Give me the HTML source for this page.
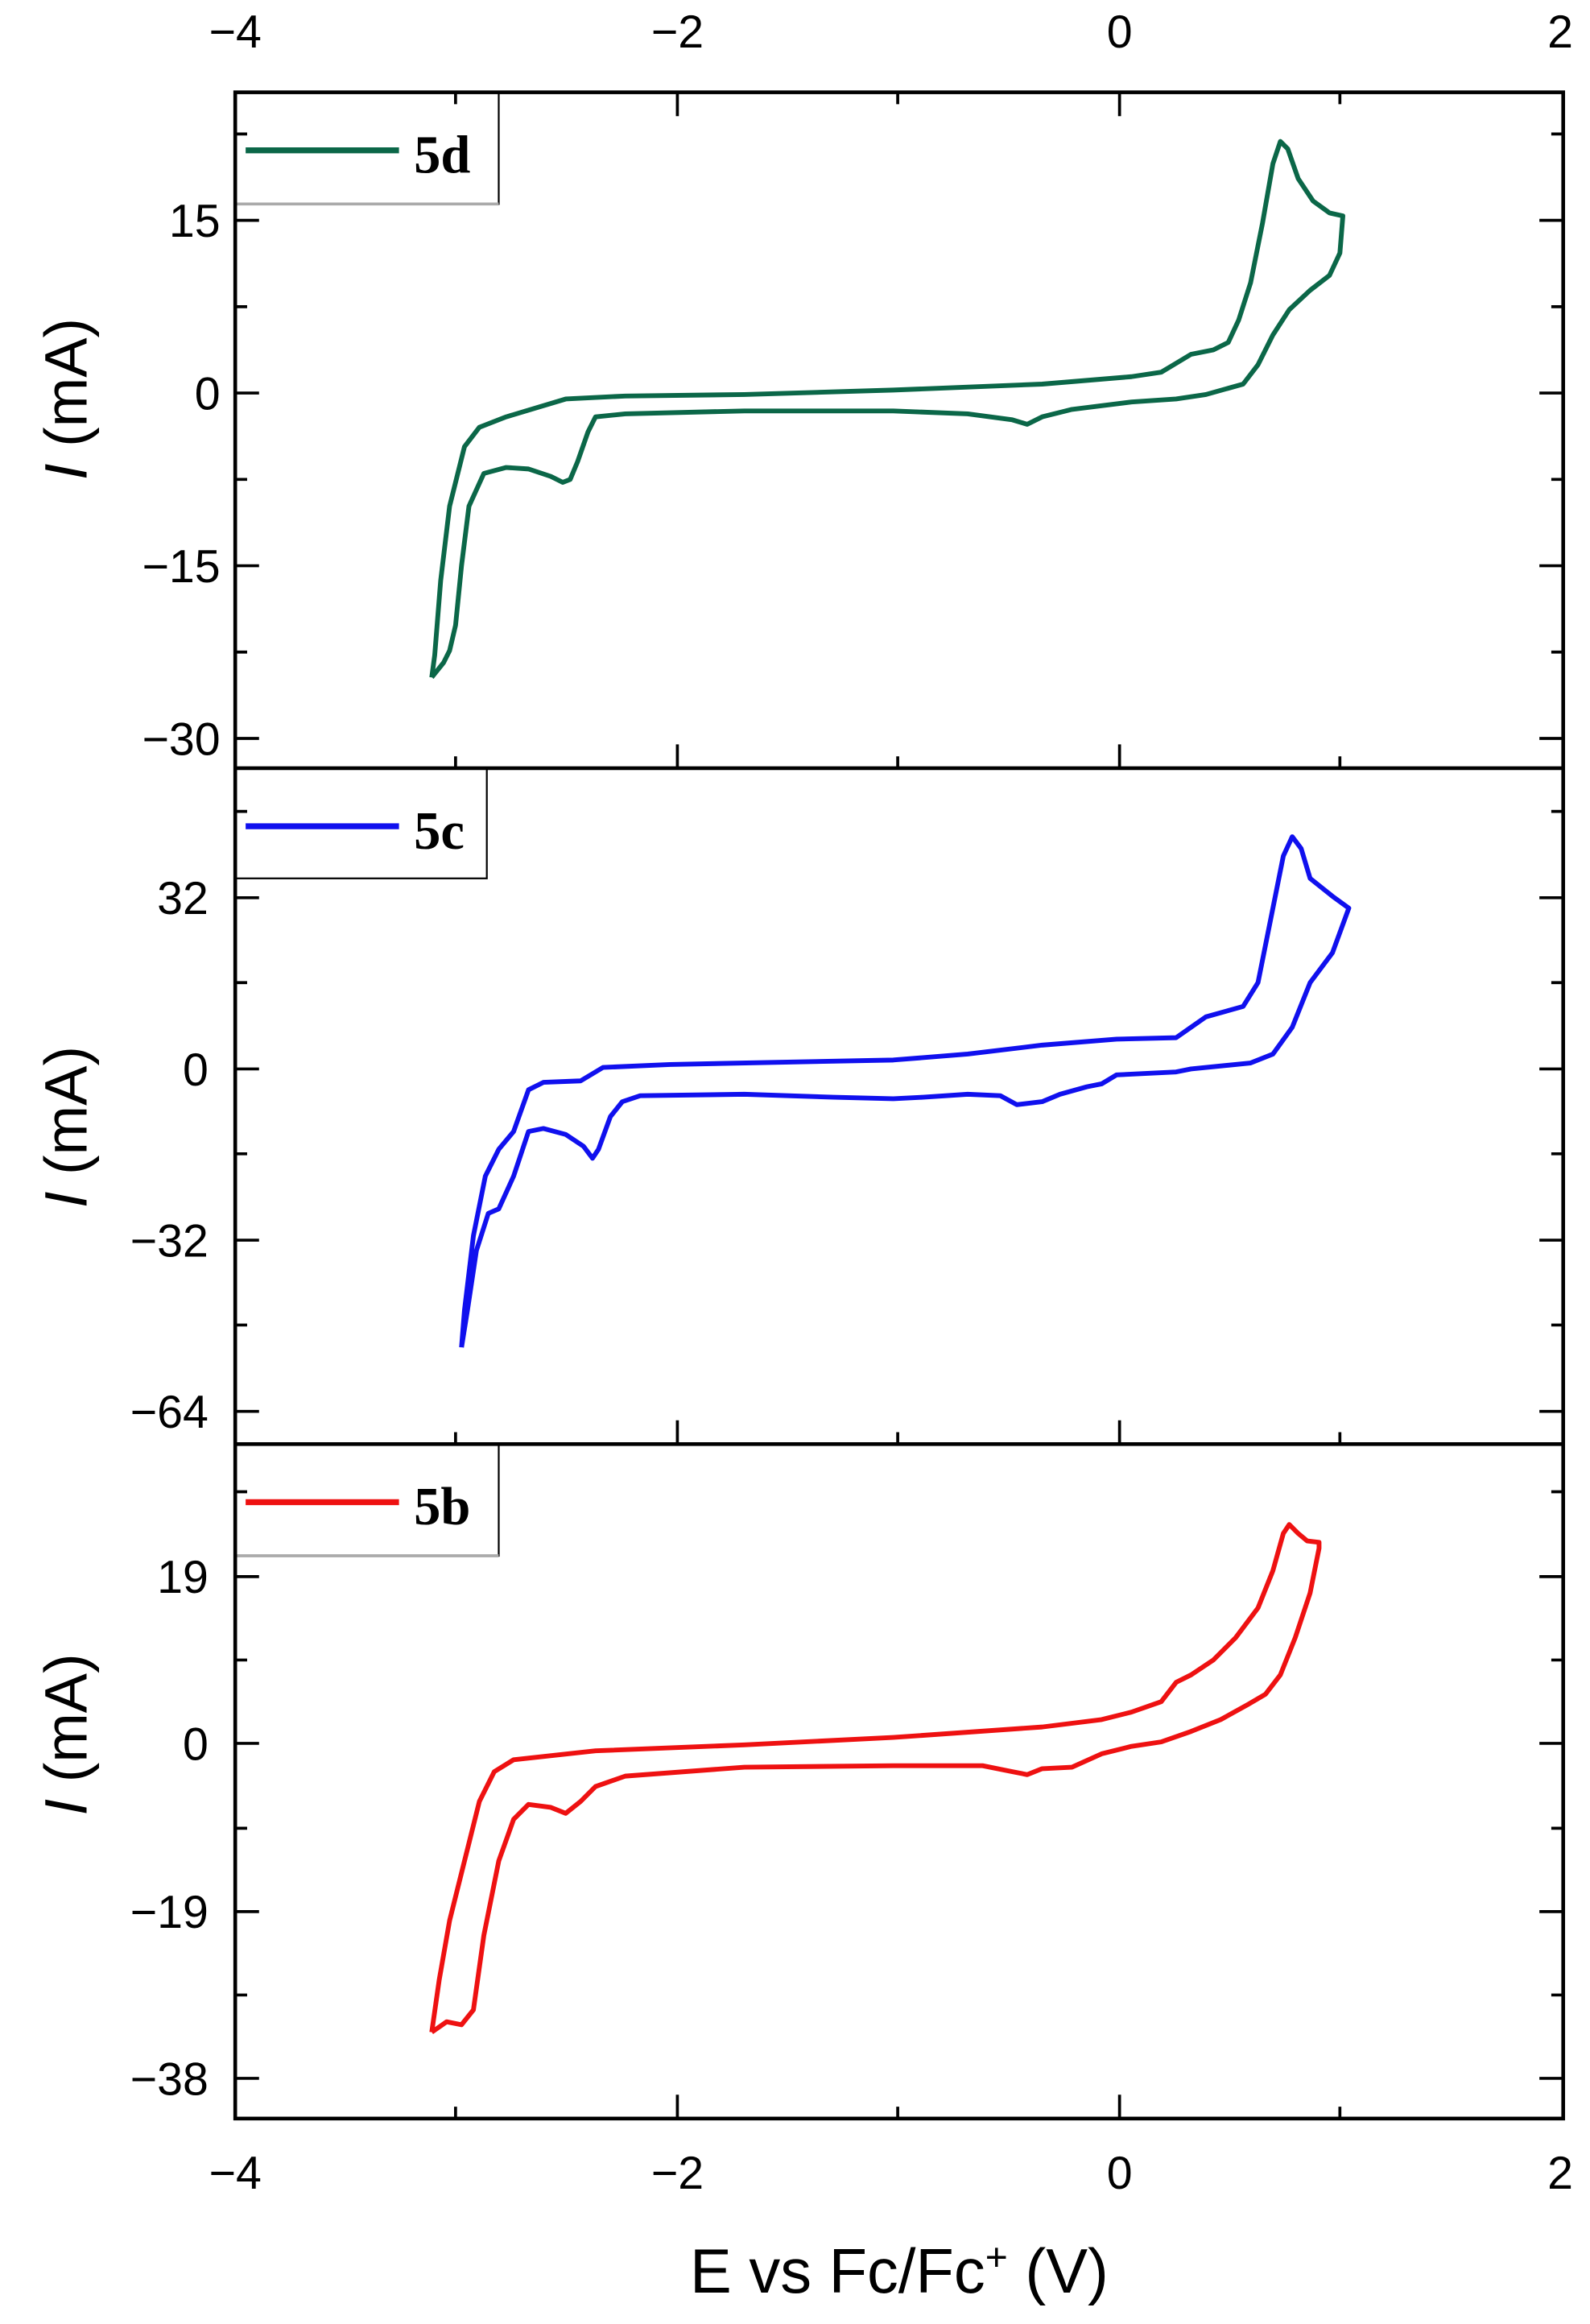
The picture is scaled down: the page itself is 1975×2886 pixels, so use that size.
<!DOCTYPE html>
<html><head><meta charset="utf-8"><style>
html,body{margin:0;padding:0;background:#fff;}
svg{display:block;}
text{font-family:"Liberation Sans",sans-serif;fill:#000;}
.t{font-size:31px;}
.lg{font-family:"Liberation Serif",serif;font-weight:bold;font-size:36px;}
</style></head><body>
<svg width="1975" height="2886" viewBox="0 0 1068 1561" preserveAspectRatio="none" xmlns="http://www.w3.org/2000/svg">
<rect width="1068" height="1561" fill="#fff"/>
<g class="t" text-anchor="middle">
<text x="158" y="32">−4</text><text x="455" y="32">−2</text><text x="752" y="32">0</text><text x="1048" y="32">2</text>
<text x="158" y="1470">−4</text><text x="455" y="1470">−2</text><text x="752" y="1470">0</text><text x="1048" y="1470">2</text>
</g>
<rect x="158" y="62" width="177" height="75" fill="#fff" stroke="#000" stroke-width="1.2"/>
<line x1="158" y1="137" x2="335" y2="137" stroke="#aaa" stroke-width="2"/>
<line x1="165" y1="101" x2="268" y2="101" stroke="#0b6748" stroke-width="4"/>
<text class="lg" x="278" y="116">5d</text>
<rect x="158" y="516" width="169" height="74" fill="#fff" stroke="#000" stroke-width="1.2"/>
<line x1="165" y1="555" x2="268" y2="555" stroke="#1010ee" stroke-width="4"/>
<text class="lg" x="278" y="570">5c</text>
<rect x="158" y="970" width="177" height="75" fill="#fff" stroke="#000" stroke-width="1.2"/>
<line x1="158" y1="1045" x2="335" y2="1045" stroke="#aaa" stroke-width="2"/>
<line x1="165" y1="1009" x2="268" y2="1009" stroke="#ee1111" stroke-width="4"/>
<text class="lg" x="278" y="1024">5b</text>
<g fill="none" stroke="#000" stroke-width="2.5">
<rect x="158" y="62" width="892" height="1361"/>
<line x1="158" y1="516" x2="1050" y2="516"/>
<line x1="158" y1="970" x2="1050" y2="970"/>
</g>
<g stroke="#000" stroke-width="2">
<path d="M455 516v-16M752 516v-16M306 516v-8M603 516v-8M900 516v-8
M455 970v-16M752 970v-16M306 970v-8M603 970v-8M900 970v-8
M455 1423v-16M752 1423v-16M306 1423v-8M603 1423v-8M900 1423v-8
M455 62v16M752 62v16M306 62v8M603 62v8M900 62v8"/>
<path d="M158 148h16M158 264h16M158 380h16M158 496h16M158 206h8M158 322h8M158 438h8M158 90h8
M1050 148h-16M1050 264h-16M1050 380h-16M1050 496h-16M1050 206h-8M1050 322h-8M1050 438h-8M1050 90h-8"/>
<path d="M158 603h16M158 718h16M158 833h16M158 948h16M158 545h8M158 660h8M158 775h8M158 890h8
M1050 603h-16M1050 718h-16M1050 833h-16M1050 948h-16M1050 545h-8M1050 660h-8M1050 775h-8M1050 890h-8"/>
<path d="M158 1059h16M158 1171h16M158 1284h16M158 1396h16M158 1002h8M158 1115h8M158 1228h8M158 1340h8
M1050 1059h-16M1050 1171h-16M1050 1284h-16M1050 1396h-16M1050 1002h-8M1050 1115h-8M1050 1228h-8M1050 1340h-8"/>
</g>
<g class="t" text-anchor="end">
<text x="148" y="159">15</text><text x="148" y="275">0</text><text x="148" y="391">−15</text><text x="148" y="507">−30</text>
<text x="140" y="614">32</text><text x="140" y="729">0</text><text x="140" y="844">−32</text><text x="140" y="959">−64</text>
<text x="140" y="1070">19</text><text x="140" y="1182">0</text><text x="140" y="1295">−19</text><text x="140" y="1407">−38</text>
</g>
<g font-size="40">
<text transform="translate(58,268) rotate(-90)" text-anchor="middle"><tspan font-style="italic">I</tspan>  (mA)</text>
<text transform="translate(58,757) rotate(-90)" text-anchor="middle"><tspan font-style="italic">I</tspan>  (mA)</text>
<text transform="translate(58,1165) rotate(-90)" text-anchor="middle"><tspan font-style="italic">I</tspan>  (mA)</text>
<text x="604" y="1540" text-anchor="middle" font-size="42">E vs Fc/Fc<tspan font-size="26" dy="-15">+</tspan><tspan dy="15"> (V)</tspan></text>
</g>
<g fill="none" stroke-width="3.2" stroke-linejoin="round">
<polyline stroke="#0b6748" points="290,455 292,440 296,390 302,340 312,300 322,287 340,280 380,268 420,266 500,265 600,262 700,258 760,253 780,250 790,244 800,238 815,235 825,230 832,215 840,190 848,150 855,110 860,95 865,100 872,120 882,135 893,143 902,145 900,170 893,185 880,195 866,208 855,225 845,245 835,258 810,265 790,268 760,270 720,275 700,280 690,285 680,282 650,278 600,276 500,276 420,278 400,280 395,290 388,310 383,322 378,324 370,320 355,315 340,314 325,318 315,340 310,380 306,420 302,437 298,445 290,455"/>
<polyline stroke="#1010ee" points="310,905 312,880 318,830 326,790 335,772 345,760 355,732 365,727 390,726 405,717 450,715 600,712 650,708 700,702 750,698 790,697 800,690 810,683 835,676 845,660 855,610 862,575 868,562 874,570 880,590 895,602 906,610 895,640 880,660 868,690 855,708 840,714 800,718 790,720 750,722 740,728 730,730 712,735 700,740 683,742 672,736 650,735 620,737 600,738 560,737 500,735 430,736 418,740 410,750 402,772 398,778 392,770 380,762 365,758 355,760 345,790 335,812 328,815 320,840 314,880 310,905"/>
<polyline stroke="#ee1111" points="290,1365 295,1330 302,1290 312,1250 322,1210 332,1190 345,1182 400,1176 500,1172 600,1167 700,1160 740,1155 760,1150 780,1143 790,1130 800,1125 815,1115 830,1100 845,1080 855,1055 862,1030 866,1024 872,1030 878,1035 886,1036 886,1040 880,1070 870,1100 860,1125 850,1138 838,1145 820,1155 800,1163 780,1170 760,1173 740,1178 720,1187 700,1188 690,1192 680,1190 660,1186 600,1186 500,1187 420,1193 400,1200 390,1210 380,1218 370,1214 355,1212 345,1222 335,1250 325,1300 318,1350 310,1360 300,1358 290,1365"/>
</g>
</svg>
</body></html>
